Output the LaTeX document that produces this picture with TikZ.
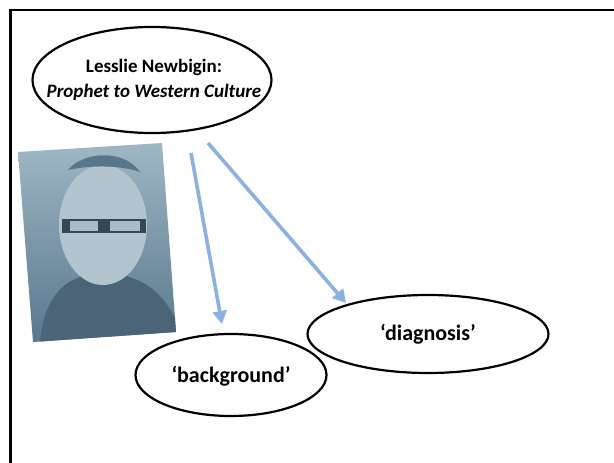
\documentclass[tikz,border=0pt]{standalone}
\usepackage{fontspec}
\setmainfont{Carlito}
\usetikzlibrary{arrows.meta,shapes.geometric}
\definecolor{arrowblue}{RGB}{140,176,224}
\definecolor{photolight}{RGB}{160,184,198}
\definecolor{photodark}{RGB}{88,118,140}
\definecolor{facecol}{RGB}{178,196,206}
\tikzset{
  oval/.style={ellipse, draw=black, line width=2.2pt, inner sep=0pt},
  titlefont/.style={font=\bfseries\fontsize{19}{25}\selectfont, align=center, inner sep=0pt},
  labelfont/.style={font=\bfseries\fontsize{22}{26}\selectfont, inner sep=0pt},
  link/.style={draw=arrowblue, line width=3.6pt, -{Triangle[length=13pt,width=14pt]}},
}
\begin{document}
\begin{tikzpicture}[x=1pt,y=-1pt]
\useasboundingbox (0,0) rectangle (614,463);
\fill[white] (0,0) rectangle (614,463);
% frame
\draw[line width=2.6pt] (10.5,463) -- (10.5,10) -- (614,10);
% photo placeholder
\begin{scope}
\clip (18,152) -- (162,143) -- (176,332) -- (33,342) -- cycle;
\shade[top color=photolight, bottom color=photodark] (10,140) rectangle (180,345);
\fill[photodark!85!black] (40,342) .. controls (45,290) and (70,275) .. (103,272) .. controls (140,275) and (165,290) .. (180,330) -- (180,345) -- (30,345) -- cycle;
\fill[facecol] (103,225) ellipse (44 and 60);
\fill[photodark!60!black] (62,219) rectangle (146,233);
\fill[facecol!90!photodark] (70,221) rectangle (98,231);
\fill[facecol!90!photodark] (110,221) rectangle (140,231);
\fill[photodark] (68,170) .. controls (85,150) and (125,150) .. (140,172) .. controls (120,165) and (90,165) .. cycle;
\end{scope}
% nodes
\node[oval, minimum width=239pt, minimum height=106pt] (top) at (152,80) {};
\node[titlefont] (toptext) at (154,80) {Lesslie Newbigin:\\\textit{Prophet to Western Culture}};
\node[oval, minimum width=191pt, minimum height=82pt] (bg) at (231,375) {};
\node[labelfont] (bgtext) at (231,376) {‘background’};
\node[oval, minimum width=241pt, minimum height=78pt] (dg) at (428,334) {};
\node[labelfont] (dgtext) at (428,334) {‘diagnosis’};
% arrows
\coordinate (s1) at (191,153);
\coordinate (e1) at (222,324);
\coordinate (s2) at (208,143);
\coordinate (e2) at (346,303);
\draw[link] (s1) -- (e1);
\draw[link] (s2) -- (e2);
\end{tikzpicture}
\end{document}
